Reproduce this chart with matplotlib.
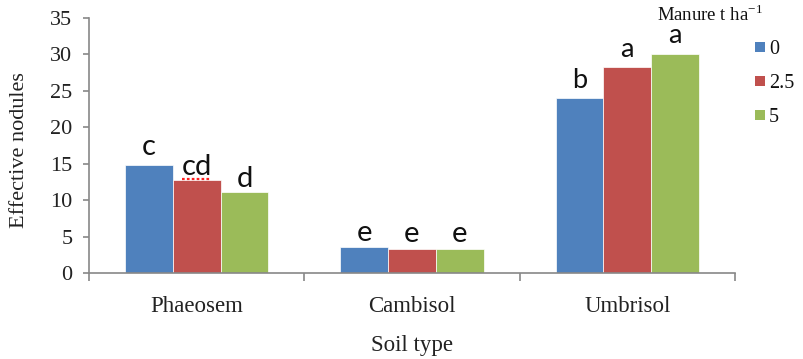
import numpy as np
import matplotlib
matplotlib.use("Agg")
import matplotlib.pyplot as plt
from matplotlib.patches import Rectangle
from matplotlib import transforms

# Effective nodule counts by soil type and manure rate
soils = ["Phaeosem", "Cambisol", "Umbrisol"]
manure_levels = ["0", "2.5", "5"]
nodules_0 = [14.9, 3.6, 24.1]
nodules_25 = [12.75, 3.35, 28.3]
nodules_5 = [11.15, 3.35, 30.0]
letters_0 = ["c", "e", "b"]
letters_25 = ["cd", "e", "a"]
letters_5 = ["d", "e", "a"]

series = [nodules_0, nodules_25, nodules_5]
letters = [letters_0, letters_25, letters_5]
colors = ["#4F81BD", "#C0504D", "#9BBB59"]
# gap (points) between each bar top and the baseline of its letter
lifts = [[7.2, 4.3, 7.2], [3.6, 4.8, 7.2], [3.6, 4.8, 7.9]]
# letter size per soil group
letter_sizes = [21, 21, 19.5]

serif = "Liberation Serif"
W, H = 804, 359
fig = plt.figure(figsize=(W / 100, H / 100), dpi=100)
ax = fig.add_axes([89 / W, 1 - 273.3 / H, (735 - 89) / W, (273.3 - 18) / H])

n = len(series)
bw = 1 / (n + 1.5)
x = np.arange(len(soils))
for i, (vals, col) in enumerate(zip(series, colors)):
    pos = x + (i - (n - 1) / 2) * bw
    ax.bar(pos, vals, width=bw, color=col, edgecolor="white", linewidth=0.5,
           label=manure_levels[i], zorder=2)
    for j, (p, v, t) in enumerate(zip(pos, vals, letters[i])):
        tr = transforms.offset_copy(ax.transData, fig=fig, x=0, y=lifts[i][j], units="points")
        ax.text(p, v, t, transform=tr, ha="center", va="baseline",
                fontsize=letter_sizes[j], family="Lato", color="#111111", zorder=3)
        if t == "cd":
            # dotted red spell-check underline beneath the "cd" label
            trz = transforms.offset_copy(ax.transData, fig=fig, x=0, y=0.6, units="points")
            ax.plot([p - bw * 0.3, p + bw * 0.3], [v, v], transform=trz, color="#FF2020",
                    lw=1.6, ls=(0, (1.2, 1.0)), zorder=4, solid_capstyle="butt")

ax.set_xlim(-0.5, len(soils) - 0.5)
ax.set_ylim(0, 35)
ax.set_yticks(np.arange(0, 36, 5))
ax.set_xticks(np.arange(-0.5, len(soils), 1.0))
ax.set_xticklabels([])
ax.set_xticks(x, minor=True)
ax.set_xticklabels(soils, minor=True)

spine_col = "#888888"
for s in ["top", "right"]:
    ax.spines[s].set_visible(False)
for s in ["left", "bottom"]:
    ax.spines[s].set_color(spine_col)
    ax.spines[s].set_linewidth(1.2)

ax.tick_params(axis="y", direction="out", length=4, width=1.2, color=spine_col,
               pad=8, labelsize=16, labelcolor="#222222")
ax.tick_params(axis="x", which="major", direction="out", length=6, width=1.2, color=spine_col)
ax.tick_params(axis="x", which="minor", length=0, pad=16, labelsize=16.5, labelcolor="#222222")
for lab in ax.get_yticklabels() + ax.get_xticklabels(minor=True):
    lab.set_family(serif)

fig.text(20 / W, 1 - 150 / H, "Effective nodules", rotation=90, ha="center", va="center",
         fontsize=16, family=serif, color="#222222")
fig.text(412 / W, 1 - 346 / H, "Soil type", ha="center", va="center",
         fontsize=16.5, family=serif, color="#222222")

# legend: title plus coloured squares with manure rates
fig.text(657 / W, 1 - 15 / H, "Manure t ha$^{\\mathregular{-1}}$", ha="left", va="center",
         fontsize=13.5, family=serif, color="#111111")
row_y = [47, 81, 115]
for lvl, col, yy in zip(manure_levels, colors, row_y):
    fig.add_artist(Rectangle((755 / W, 1 - (yy + 5) / H), 10 / W, 10 / H,
                             transform=fig.transFigure, facecolor=col, edgecolor="none"))
    fig.text(769 / W, 1 - yy / H, lvl, ha="left", va="center_baseline",
             fontsize=14.5, family=serif, color="#111111")

fig.savefig("out.png", dpi=100)
